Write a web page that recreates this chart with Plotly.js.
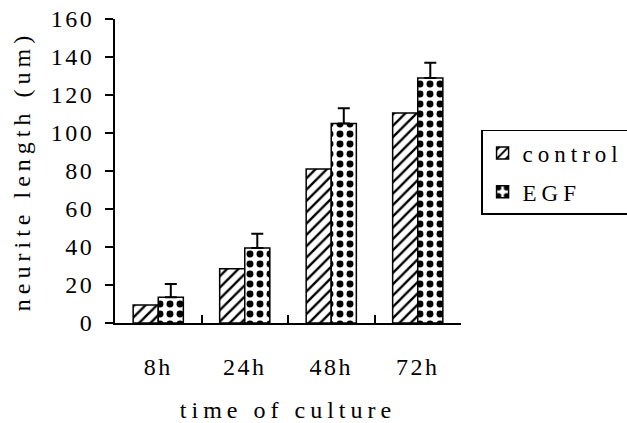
<!DOCTYPE html>
<html>
<head>
<meta charset="utf-8">
<script src="https://cdn.plot.ly/plotly-3.0.1.min.js"></script>
<style>
html,body{margin:0;padding:0;background:#fff;}
#chart{width:627px;height:423px;}
g.xtick text, g.ytick text { letter-spacing: 2.5px; }
text.xtitle, text.ytitle, text.legendtext { letter-spacing: 5px; }
</style>
</head>
<body>
<div id="chart"></div>
<script>
const categories = ["8h", "24h", "48h", "72h"];
const controlValues = [9.5, 28.5, 81, 110.5];
const egfValues = [13.5, 39.5, 105, 129];
const egfErrors = [7, 7.5, 8, 8];
const yTicks = [0, 20, 40, 60, 80, 100, 120, 140, 160];

const FONT = "Liberation Serif, DejaVu Serif, serif";

const traces = [
  {
    type: "bar",
    name: "control",
    legendgroup: "a",
    x: categories,
    y: controlValues,
    marker: {
      color: "#ffffff",
      line: {color: "#000000", width: 1.5},
      pattern: {shape: "/", fgcolor: "#000000", bgcolor: "#ffffff", size: 8, solidity: 0.3}
    }
  },
  {
    type: "bar",
    name: "EGF",
    legendgroup: "b",
    x: categories,
    y: egfValues,
    error_y: {
      type: "data", symmetric: false, array: egfErrors,
      arrayminus: egfErrors.map(() => 0),
      color: "#000000", thickness: 2, width: 6
    },
    marker: {
      color: "#ffffff",
      line: {color: "#000000", width: 1.5},
      pattern: {shape: ".", fgcolor: "#000000", bgcolor: "#ffffff", size: 10, solidity: 0.38}
    }
  }
];

const layout = {
  width: 627, height: 423,
  paper_bgcolor: "#ffffff", plot_bgcolor: "#ffffff",
  margin: {l: 115, r: 166, t: 19, b: 100, autoexpand: false},
  font: {family: FONT, size: 24, color: "#000000"},
  barmode: "group",
  bargap: 0.42,
  bargroupgap: 0,
  showlegend: true,
  legend: {
    x: 1.058, xanchor: "left", y: 0.635, yanchor: "top",
    bordercolor: "#000000", borderwidth: 1.5, bgcolor: "#ffffff",
    font: {family: FONT, size: 23, color: "#000000"},
    itemwidth: 30, traceorder: "grouped", tracegroupgap: 6
  },
  xaxis: {
    type: "category",
    showline: true, linecolor: "#000000", linewidth: 2,
    ticks: "inside", tickson: "boundaries", ticklen: 8, tickwidth: 2, tickcolor: "#000000",
    ticklabelstandoff: 21,
    showgrid: false, zeroline: false,
    tickfont: {family: FONT, size: 24, color: "#000000"},
    title: {text: "time of culture", font: {family: FONT, size: 24, color: "#000000"}, standoff: 24}
  },
  yaxis: {
    range: [0, 160],
    tickvals: yTicks,
    ticktext: yTicks.map(String),
    showline: true, linecolor: "#000000", linewidth: 2,
    ticks: "outside", ticklen: 8, tickwidth: 2, tickcolor: "#000000",
    ticklabelstandoff: 6,
    showgrid: false, zeroline: false,
    tickfont: {family: FONT, size: 24, color: "#000000"},
    title: {text: "neurite length (um)", font: {family: FONT, size: 24, color: "#000000"}, standoff: 13}
  }
};

Plotly.newPlot("chart", traces, layout, {displayModeBar: false, staticPlot: true});
</script>
</body>
</html>
